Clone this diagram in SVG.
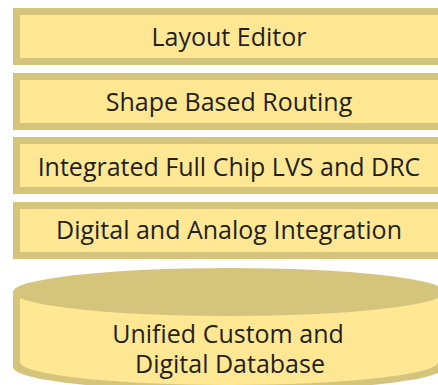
<svg xmlns="http://www.w3.org/2000/svg" width="438" height="385" viewBox="0 0 438 385">
  <style>
    .edge { fill: #D5C47B; }
    .face { fill: #FFE793; }
    .label { font-family: "Open Sans", "Liberation Sans", sans-serif; font-size: 25px; fill: #231F20; text-anchor: middle; }
  </style>
  <rect width="438" height="385" fill="#FFFFFF"/>

  <g id="layout-editor">
    <rect class="edge" x="13" y="8" width="432" height="57"/>
    <rect class="face" x="20" y="15" width="418" height="43"/>
    <text class="label" x="229" y="46">Layout Editor</text>
  </g>

  <g id="shape-based-routing">
    <rect class="edge" x="13" y="73" width="432" height="57"/>
    <rect class="face" x="20" y="80" width="418" height="43"/>
    <text class="label" x="229" y="111">Shape Based Routing</text>
  </g>

  <g id="lvs-drc">
    <rect class="edge" x="13" y="137" width="432" height="57"/>
    <rect class="face" x="20" y="144" width="418" height="43"/>
    <text class="label" x="229" y="176">Integrated Full Chip LVS and DRC</text>
  </g>

  <g id="digital-analog">
    <rect class="edge" x="13" y="202" width="432" height="57"/>
    <rect class="face" x="20" y="209" width="418" height="43"/>
    <text class="label" x="229" y="239">Digital and Analog Integration</text>
  </g>

  <g id="database">
    <path class="edge" d="M13,292 A216,24 0 0 1 445,292 L445,367 A216,24 0 0 1 13,367 Z"/>
    <path class="face" d="M20,298 A216,24 0 0 0 438,298 L438,362 A209,23 0 0 1 20,362 Z"/>
    <text class="label" x="228" y="343">Unified Custom and</text>
    <text class="label" x="230" y="373">Digital Database</text>
  </g>

  <g id="connectors"/>
</svg>
